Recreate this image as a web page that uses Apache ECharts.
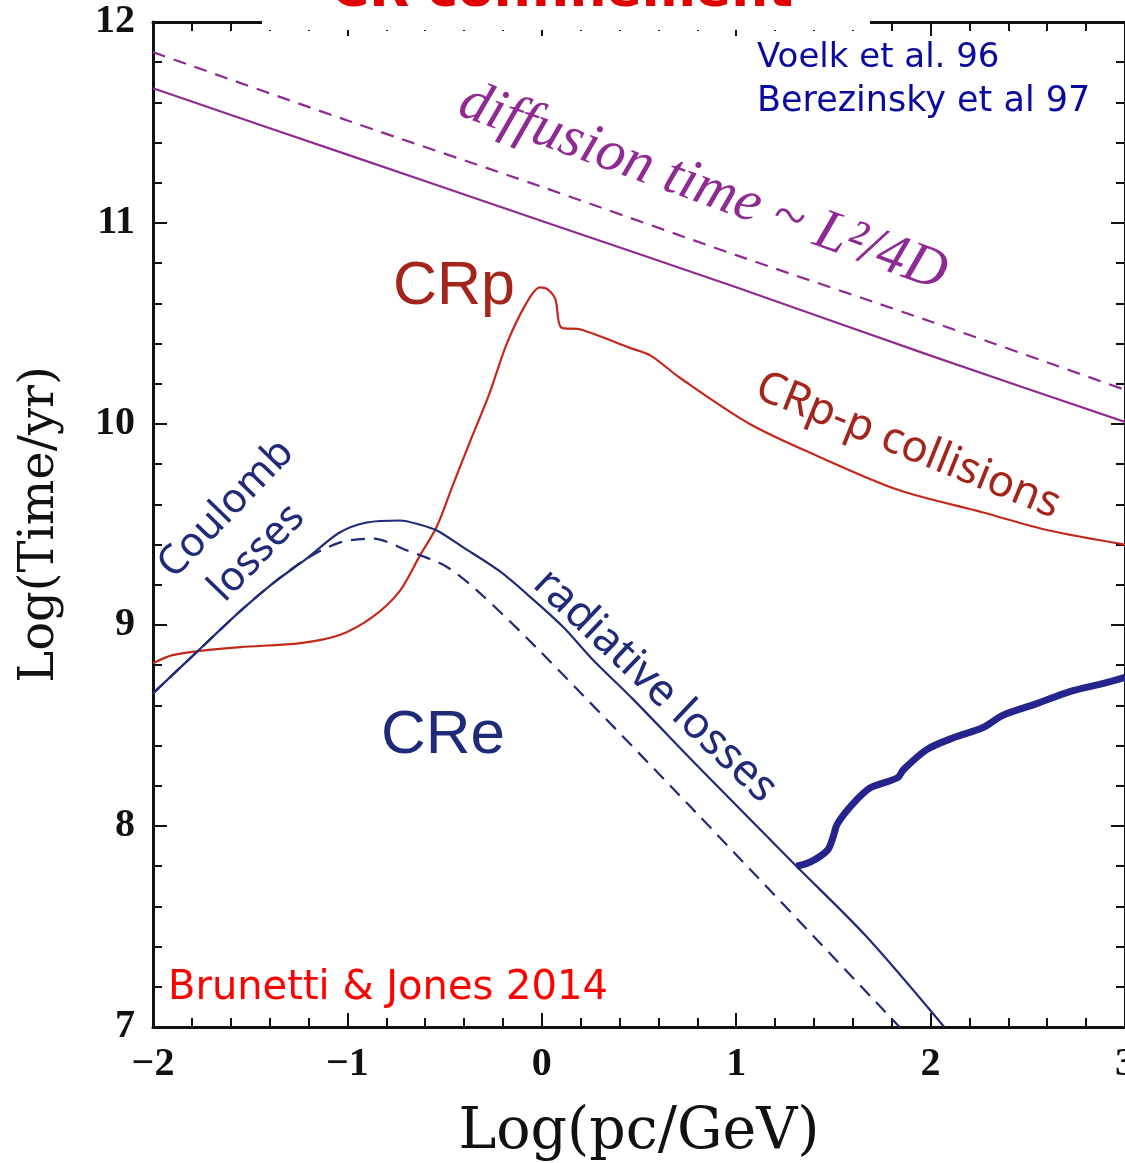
<!DOCTYPE html>
<html>
<head>
<meta charset="utf-8">
<script src="https://cdn.jsdelivr.net/npm/echarts@6/dist/echarts.min.js"></script>
<style>
html,body{margin:0;padding:0;background:#fff;overflow:hidden;}
#chart{width:1125px;height:1163px;display:block;}
</style>
</head>
<body>
<div id="chart"></div>
<script>
// ---- Data ----
const xTickValues = [-2, -1, 0, 1, 2, 3];
const yTickValues = [7, 8, 9, 10, 11, 12];

// diffusion time ~ L^2/4D (solid and dashed)
const diffusionSolid = [[-2,11.67],[-1,11.34],[0,11.01],[1,10.68],[2,10.34],[3,10.01]];
const diffusionDashed = [[-2,11.85],[-1,11.51],[0,11.18],[1,10.84],[2,10.51],[3,10.17]];

// CRp
const crp = [[-2.00,8.81],[-1.90,8.85],[-1.77,8.87],[-1.55,8.89],[-1.24,8.91],[-1.04,8.95],
  [-0.87,9.04],[-0.73,9.17],[-0.63,9.34],[-0.54,9.49],[-0.46,9.69],[-0.37,9.91],[-0.27,10.15],
  [-0.18,10.40],[-0.08,10.60],[-0.01,10.68],[0.03,10.67],[0.07,10.62],[0.10,10.48],[0.20,10.47],
  [0.45,10.38],[0.56,10.34],[0.71,10.23],[1.07,10.00],[1.42,9.84],[1.84,9.67],[2.27,9.56],
  [2.61,9.47],[3.00,9.40]];

// CRe solid
const creSolid = [[-2.00,8.66],[-1.77,8.87],[-1.55,9.07],[-1.38,9.21],[-1.21,9.33],[-1.04,9.46],
  [-0.90,9.51],[-0.73,9.52],[-0.63,9.50],[-0.54,9.47],[-0.41,9.39],[-0.22,9.27],[-0.06,9.14],
  [0.11,8.99],[0.26,8.83],[0.47,8.63],[0.81,8.29],[1.31,7.80],[1.67,7.45],[2.07,7.00]];

// CRe dashed
const creDashed = [[-2.00,8.66],[-1.77,8.87],[-1.55,9.07],[-1.38,9.21],[-1.21,9.33],[-1.04,9.41],
  [-0.87,9.43],[-0.69,9.37],[-0.49,9.29],[-0.32,9.16],[-0.02,8.88],[0.80,8.06],[1.84,7.00]];

// thick blue curve
const thickBlue = [[1.31,7.80],[1.38,7.82],[1.47,7.88],[1.50,7.95],[1.52,8.01],[1.60,8.11],
  [1.69,8.19],[1.83,8.24],[1.86,8.28],[1.98,8.38],[2.12,8.44],[2.27,8.49],[2.37,8.55],
  [2.55,8.61],[2.72,8.67],[2.89,8.71],[3.00,8.74]];

const PURPLE = '#8f2a92';
const RED = '#c4281c';
const DARKRED = '#a3251c';
const NAVY = '#1f2a78';
const THICK = '#24248c';

const chart = echarts.init(document.getElementById('chart'), null, {renderer:'canvas', width: 1125, height: 1163});

function lineSeries(data, color, width, type, z) {
  return {
    type: 'line', data: data, xAxisIndex: 0, yAxisIndex: 0,
    showSymbol: false, smooth: 0.3, z: z || 3,
    lineStyle: {color: color, width: width, type: type || 'solid'},
    silent: true, animation: false
  };
}

const axisCommon = {
  type: 'value',
  splitLine: {show: false},
  axisLine: {show: true, onZero: false, lineStyle: {color: '#111', width: 3}},
  axisTick: {show: true, inside: true, length: 14, lineStyle: {color: '#111', width: 2}},
  minorTick: {show: true, splitNumber: 5, length: 9, lineStyle: {color: '#111', width: 2}}
};

const tickLabelStyle = {color: '#111', fontFamily: '"Liberation Serif", "DejaVu Serif", serif', fontWeight: 'bold', fontSize: 40};
const titleFont = '"DejaVu Serif", "Liberation Serif", serif';

const option = {
  backgroundColor: '#fff',
  animation: false,
  grid: {left: 153, top: 22, width: 972, height: 1005, containLabel: false, outerBoundsMode: 'none'},
  xAxis: [
    Object.assign({}, axisCommon, {
      position: 'bottom', min: -2, max: 3, interval: 1,
      name: 'Log(pc/GeV)', nameLocation: 'middle', nameGap: 78,
      nameTextStyle: {fontFamily: titleFont, fontSize: 57, color: '#111'},
      axisLabel: Object.assign({margin: 18,
        formatter: function (v) { return xTickValues.indexOf(v) >= 0 ? String(v).replace('-', '\u2212') : ''; }
      }, tickLabelStyle)
    }),
    Object.assign({}, axisCommon, {
      position: 'top', min: -2, max: 3, interval: 1,
      axisLabel: {show: false}
    })
  ],
  yAxis: [
    Object.assign({}, axisCommon, {
      position: 'left', min: 7, max: 12, interval: 1,
      name: 'Log(Time/yr)', nameLocation: 'middle', nameGap: 88, nameRotate: 90,
      nameTextStyle: {fontFamily: titleFont, fontSize: 48, color: '#111'},
      axisLabel: Object.assign({margin: 18,
        formatter: function (v) { return yTickValues.indexOf(v) >= 0 ? String(v) : ''; }
      }, tickLabelStyle)
    }),
    Object.assign({}, axisCommon, {
      position: 'right', min: 7, max: 12, interval: 1,
      axisLabel: {show: false}
    })
  ],
  series: [
    lineSeries(diffusionSolid, PURPLE, 2.2, 'solid'),
    lineSeries(diffusionDashed, PURPLE, 2.2, [13, 9]),
    lineSeries(crp, RED, 2.2, 'solid'),
    lineSeries(creSolid, NAVY, 2.2, 'solid'),
    lineSeries(creDashed, NAVY, 2.2, [14, 9]),
    lineSeries(thickBlue, THICK, 7, 'solid', 4)
  ],
  graphic: [
    // white box that hides part of the top frame (title backdrop)
    {type: 'rect', left: 262, top: 0, shape: {width: 608, height: 30}, style: {fill: '#fff'}, z: 100},
    {type: 'text', x: 562, y: -8, z: 101,
      style: {text: 'CR confinement', fill: '#e00000', font: 'bold 52px "DejaVu Sans", sans-serif',
        textAlign: 'center', textVerticalAlign: 'middle'}},
    {type: 'text', x: 757, y: 58, z: 101,
      style: {text: 'Voelk et al. 96', fill: '#0a0aa0', font: '34px "DejaVu Sans", sans-serif',
        textAlign: 'left', textVerticalAlign: 'middle'}},
    {type: 'text', x: 757, y: 102, z: 101,
      style: {text: 'Berezinsky et al 97', fill: '#0a0aa0', font: '35px "DejaVu Sans", sans-serif',
        textAlign: 'left', textVerticalAlign: 'middle'}},
    {type: 'text', x: 703, y: 188, rotation: -20 * Math.PI / 180, z: 101,
      style: {text: 'diffusion time ~ L\u00b2/4D', fill: PURPLE, font: 'italic 58px "Liberation Serif", "DejaVu Serif", serif',
        textAlign: 'center', textVerticalAlign: 'middle'}},
    {type: 'text', x: 454, y: 287, z: 101,
      style: {text: 'CRp', fill: DARKRED, font: '61px "Liberation Sans", Arial, sans-serif',
        textAlign: 'center', textVerticalAlign: 'middle'}},
    {type: 'text', x: 443, y: 736, z: 101,
      style: {text: 'CRe', fill: NAVY, font: '62px "Liberation Sans", Arial, sans-serif',
        textAlign: 'center', textVerticalAlign: 'middle'}},
    {type: 'text', x: 908, y: 446, rotation: -22 * Math.PI / 180, z: 101,
      style: {text: 'CRp-p collisions', fill: DARKRED, font: '44px "Noto Sans", "DejaVu Sans", sans-serif',
        textAlign: 'center', textVerticalAlign: 'middle'}},
    {type: 'text', x: 655, y: 686, rotation: -43.5 * Math.PI / 180, z: 101,
      style: {text: 'radiative losses', fill: NAVY, font: '44px "Noto Sans", "DejaVu Sans", sans-serif',
        textAlign: 'center', textVerticalAlign: 'middle'}},
    {type: 'text', x: 226, y: 509, rotation: 46 * Math.PI / 180, z: 101,
      style: {text: 'Coulomb', fill: NAVY, font: '41px "Noto Sans", "DejaVu Sans", sans-serif',
        textAlign: 'center', textVerticalAlign: 'middle'}},
    {type: 'text', x: 257, y: 553, rotation: 46 * Math.PI / 180, z: 101,
      style: {text: 'losses', fill: NAVY, font: '41px "Noto Sans", "DejaVu Sans", sans-serif',
        textAlign: 'center', textVerticalAlign: 'middle'}},
    {type: 'text', x: 168, y: 989, z: 101,
      style: {text: 'Brunetti & Jones 2014', fill: '#ff0000', font: '40px "DejaVu Sans", sans-serif',
        textAlign: 'left', textVerticalAlign: 'middle'}}
  ]
};
chart.setOption(option);
</script>
</body>
</html>
